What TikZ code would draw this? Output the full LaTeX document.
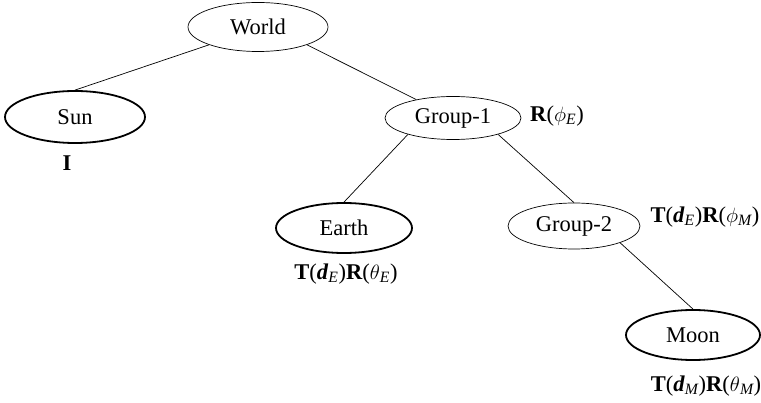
\documentclass[tikz,border=0pt]{standalone}
\usepackage{amsmath}
\usepackage{fontspec}
\setmainfont{Liberation Serif}
\usetikzlibrary{shapes.geometric}
% italic upright-weight subscript in the text font
\newcommand{\isub}[1]{$_{\text{\normalfont\itshape #1}}$}
\begin{document}
\begin{tikzpicture}[x=1pt,y=-1pt,
  every node/.style={font=\fontsize{22.5}{27}\selectfont},
  grp/.style={ellipse,draw,line width=0.7pt,inner sep=0pt,
    minimum width=136pt,minimum height=43pt},
  leaf/.style={ellipse,draw,line width=1.8pt,inner sep=0pt,
    minimum width=136pt,minimum height=50pt},
  xform/.style={inner sep=0pt},
  link/.style={line width=0.7pt}]
\useasboundingbox (0,0) rectangle (761,403);

% scene graph nodes
\node[grp,minimum width=140pt,minimum height=49pt] (world) at (258,27) {World};
\node[leaf,minimum width=140pt,minimum height=52pt] (sun) at (75,117) {Sun};
\node[grp] (g1) at (453,118) {Group-1};
\node[leaf] (earth) at (344,228) {Earth};
\node[grp,minimum width=132pt,minimum height=46pt] (g2) at (574,226) {Group-2};
\node[leaf,minimum width=134pt] (moon) at (693,335) {Moon};

% transformations
\node[xform] (tsun) at (67,163) {\textbf{I}};
\node[xform] (tg1) at (557,116) {\textbf{R}($\phi$\isub{E})};
\node[xform] (tearth) at (346,274)
  {\textbf{T}(\textbf{\itshape d}\isub{E})\textbf{R}($\theta$\isub{E})};
\node[xform] (tg2) at (705,217)
  {\textbf{T}(\textbf{\itshape d}\isub{E})\textbf{R}($\phi$\isub{M})};
\node[xform] (tmoon) at (706,386)
  {\textbf{T}(\textbf{\itshape d}\isub{M})\textbf{R}($\theta$\isub{M})};

% edges
\draw[link] (world.200) -- (sun.north);
\draw[link] (world.340) -- (g1);
\draw[link] (g1.200) -- (earth.north);
\draw[link] (g1.340) -- (g2.north);
\draw[link] (g2.340) -- (moon.north);
\end{tikzpicture}
\end{document}
